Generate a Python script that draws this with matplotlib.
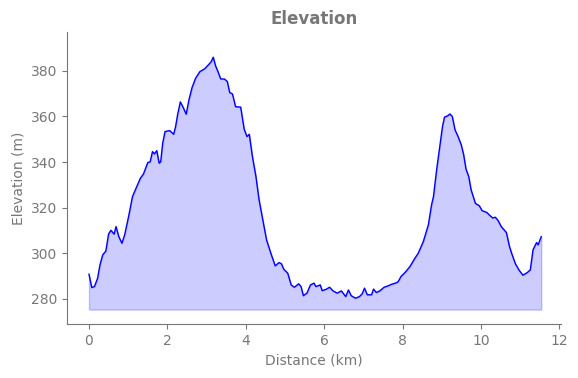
import numpy as np
import matplotlib
matplotlib.use("Agg")
import matplotlib.pyplot as plt

# Distanz (km) und Höhe (m)
distance = [0.0, 0.07, 0.14, 0.22, 0.28, 0.35, 0.43, 0.50, 0.56, 0.64, 0.69, 0.76,
            0.84, 0.91, 1.01, 1.11, 1.22, 1.31, 1.39, 1.50, 1.56, 1.62, 1.67, 1.73,
            1.79, 1.83, 1.88, 1.94, 2.06, 2.16, 2.21, 2.26, 2.33, 2.40, 2.48, 2.55,
            2.63, 2.72, 2.83, 2.95, 3.06, 3.12, 3.17, 3.23, 3.29, 3.36, 3.46, 3.53,
            3.59, 3.66, 3.74, 3.87, 3.96, 4.03, 4.09, 4.17, 4.26, 4.34, 4.45, 4.53,
            4.64, 4.75, 4.85, 4.91, 4.97, 5.07, 5.16, 5.24, 5.35, 5.41, 5.47, 5.56,
            5.65, 5.74, 5.79, 5.90, 5.95, 6.05, 6.14, 6.22, 6.33, 6.44, 6.55, 6.62,
            6.69, 6.80, 6.90, 6.97, 7.03, 7.10, 7.21, 7.26, 7.33, 7.42, 7.53, 7.63,
            7.72, 7.85, 7.89, 7.96, 8.06, 8.19, 8.30, 8.40, 8.53, 8.66, 8.74, 8.79,
            8.87, 8.94, 8.98, 9.02, 9.07, 9.15, 9.21, 9.27, 9.34, 9.41, 9.50, 9.56,
            9.62, 9.69, 9.75, 9.86, 9.96, 10.03, 10.15, 10.24, 10.30, 10.37, 10.44,
            10.52, 10.65, 10.73, 10.79, 10.88, 10.97, 11.07, 11.18, 11.26, 11.33,
            11.42, 11.46, 11.54]
elevation = [290.8, 285.0, 285.4, 289.1, 294.9, 299.3, 301.0, 308.5, 310.1, 308.4,
             311.7, 307.3, 304.4, 308.1, 316.1, 324.9, 329.3, 332.9, 334.8, 339.8,
             340.1, 344.6, 343.6, 345.0, 339.5, 340.2, 348.3, 353.4, 353.8, 352.2,
             355.6, 360.7, 366.4, 364.1, 361.0, 367.3, 372.7, 376.8, 379.7, 380.9,
             382.9, 384.1, 386.0, 382.2, 379.7, 376.5, 376.4, 375.3, 370.5, 369.9,
             364.3, 364.1, 354.4, 351.2, 352.2, 342.4, 333.6, 323.4, 313.2, 305.9,
             300.0, 294.5, 295.9, 295.4, 293.0, 291.3, 286.1, 285.1, 286.6, 285.4,
             281.4, 282.5, 286.1, 286.9, 285.4, 286.1, 283.6, 284.2, 285.1, 283.6,
             282.5, 283.5, 281.0, 283.9, 281.4, 280.3, 281.0, 282.2, 284.7, 281.8,
             281.8, 284.3, 282.8, 283.5, 285.1, 285.7, 286.4, 287.1, 287.6, 289.8,
             291.5, 294.2, 297.4, 300.0, 305.1, 312.5, 321.2, 324.9, 336.6, 345.4,
             350.5, 355.6, 359.7, 360.3, 361.1, 360.0, 354.1, 351.5, 347.5, 343.2,
             336.9, 333.6, 327.8, 321.9, 320.8, 318.7, 317.9, 316.4, 315.5, 315.8,
             314.3, 311.7, 309.1, 302.9, 299.7, 295.4, 292.7, 290.4, 291.5, 292.7,
             301.5, 304.7, 303.7, 307.3]

grau = "#777777"
basis = min(elevation) - 5

fig, ax = plt.subplots(figsize=(5.78, 3.78), dpi=100)
fig.subplots_adjust(left=0.116, right=0.971, bottom=0.143, top=0.915)

ax.fill_between(distance, elevation, basis, color="blue", alpha=0.2)
ax.plot(distance, elevation, color="blue", linewidth=1)

ax.set_xlim(-0.56, 12.05)
ax.set_ylim(269, 397)
ax.set_xticks([0, 2, 4, 6, 8, 10, 12])
ax.set_yticks([280, 300, 320, 340, 360, 380])

ax.set_title("Elevation", color=grau, fontweight="bold", fontsize=12)
ax.set_xlabel("Distance (km)", color=grau)
ax.set_ylabel("Elevation (m)", color=grau)

for s in ["top", "right"]:
    ax.spines[s].set_visible(False)
for s in ["left", "bottom"]:
    ax.spines[s].set_color(grau)
ax.tick_params(colors=grau)

plt.savefig("out.png")
